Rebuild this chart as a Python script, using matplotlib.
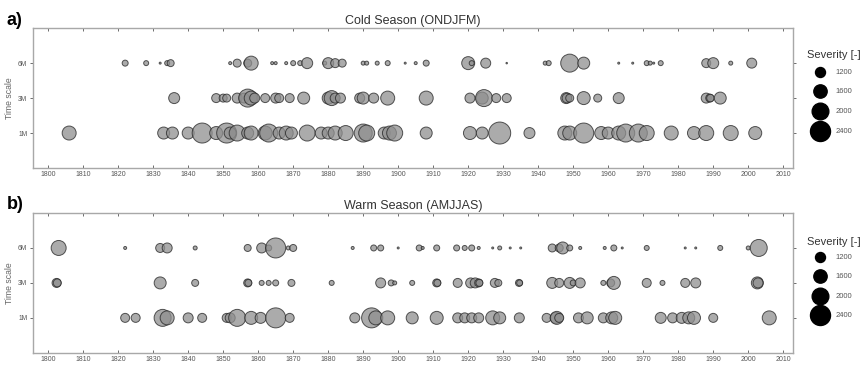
import matplotlib
matplotlib.use("Agg")
import matplotlib.pyplot as plt
import numpy as np

plt.rcParams['font.family'] = ['Liberation Sans', 'DejaVu Sans']

# ---- data (year, severity) ----
cold_6m_years = [1822, 1828, 1832, 1834, 1835, 1852, 1854, 1857, 1858, 1864, 1865, 1868,
                 1870, 1872, 1874, 1879, 1880, 1882, 1884, 1890, 1891, 1894, 1897, 1902,
                 1905, 1908, 1920, 1921, 1925, 1931, 1942, 1943, 1949, 1953, 1963, 1967,
                 1971, 1972, 1973, 1975, 1988, 1990, 1995, 2001]
cold_6m_sev = [720, 600, 240, 600, 840, 360, 960, 960, 1680, 360, 360, 360,
               600, 600, 1320, 480, 1320, 1080, 960, 480, 480, 480, 600, 240,
               360, 720, 1560, 600, 1200, 180, 480, 600, 2160, 1440, 240, 240,
               600, 480, 240, 600, 1080, 1320, 480, 1200]

cold_3m_years = [1836, 1848, 1850, 1851, 1854, 1856, 1857, 1858, 1859, 1862, 1865, 1866,
                 1869, 1873, 1880, 1881, 1882, 1883.5, 1889, 1890, 1893, 1897, 1908,
                 1920.5, 1924, 1924.5, 1928, 1931, 1948, 1948.2, 1949, 1953, 1957, 1963,
                 1988, 1989, 1989.2, 1992]
cold_3m_sev = [1320, 1080, 960, 960, 1200, 1200, 2160, 1680, 1200, 1080, 1200, 1080,
               1080, 1440, 1440, 1800, 1200, 1200, 1200, 1440, 1200, 1680, 1680,
               1200, 1440, 2040, 1080, 1080, 1320, 1150, 960, 1560, 960, 1320,
               1200, 960, 900, 1440]

cold_1m_years = [1806, 1833, 1835.5, 1840, 1844, 1848, 1851, 1852, 1854, 1857, 1858, 1862,
                 1863, 1866, 1868, 1869.5, 1874, 1878, 1880, 1882, 1885, 1890, 1891,
                 1896, 1897.5, 1899, 1908, 1920.5, 1924, 1929, 1937.5, 1947.6, 1949,
                 1953, 1958, 1960, 1963, 1965, 1968.6, 1971, 1978, 1984.5, 1988, 1995, 2002]
cold_1m_sev = [1680, 1440, 1440, 1440, 2400, 1560, 2400, 1440, 1920, 1440, 1680, 1680,
               2160, 1440, 1680, 1440, 1920, 1440, 1440, 1680, 1800, 2160, 1920,
               1440, 1680, 1920, 1440, 1560, 1440, 2640, 1320, 1680, 1680,
               2400, 1560, 1440, 1680, 2160, 2160, 1800, 1680, 1560, 1800, 1800, 1560]

warm_6m_years = [1803, 1822, 1832, 1834, 1842, 1857, 1861, 1863, 1865, 1868.6, 1870, 1887,
                 1893, 1895, 1900, 1906, 1907, 1911, 1916.7, 1919, 1921, 1923, 1927,
                 1929, 1932, 1935, 1944, 1946, 1947, 1949, 1952, 1959, 1961.6, 1964,
                 1971, 1982, 1985, 1992, 2000, 2003]
warm_6m_sev = [1800, 360, 1080, 1200, 480, 840, 1200, 720, 2400, 480, 840, 360,
               720, 720, 240, 720, 360, 720, 720, 600, 720, 360, 240,
               480, 240, 240, 960, 960, 1440, 720, 360, 360, 720, 240,
               600, 240, 240, 600, 480, 2040]

warm_3m_years = [1802.4, 1802.6, 1832, 1842, 1857, 1857.2, 1861, 1863, 1865, 1869.5, 1881,
                 1895, 1898, 1899, 1904, 1911, 1911.2, 1917, 1920.7, 1922, 1923, 1923.2,
                 1927.6, 1928.6, 1934.5, 1934.7, 1944, 1946, 1949, 1950, 1952, 1958.6,
                 1960.7, 1961.6, 1971, 1975.5, 1982, 1985, 2002.6, 2002.8]
warm_3m_sev = [1080, 960, 1440, 840, 960, 840, 600, 600, 720, 840, 600,
               1200, 720, 480, 600, 960, 840, 1080, 1200, 1200, 960, 840,
               1080, 840, 840, 720, 1320, 1080, 1320, 720, 1200, 600,
               960, 1560, 1080, 600, 1080, 1200, 1440, 1200]

warm_1m_years = [1822, 1825, 1832.7, 1834, 1840, 1844, 1851, 1852, 1854, 1858, 1860.7, 1865,
                 1869, 1887.6, 1892.4, 1893.6, 1897, 1904, 1911, 1917, 1919, 1921, 1923,
                 1927, 1929, 1934.6, 1942.4, 1945, 1945.3, 1946, 1951.5, 1954, 1958.6,
                 1961, 1962, 1975, 1978.4, 1981, 1983, 1984.5, 1990, 2006]
warm_1m_sev = [1080, 1080, 2040, 1680, 1200, 1080, 1080, 1200, 2040, 1560, 1320, 2400,
               1080, 1200, 2400, 1680, 1680, 1440, 1560, 1200, 1200, 1200, 1200,
               1680, 1440, 1200, 1080, 1320, 1560, 1080, 1200, 1440, 1200,
               1440, 1560, 1320, 1200, 1320, 1440, 1560, 1080, 1680]

legend_sev = [1200, 1600, 2000, 2400]
row_labels = ['1M', '3M', '6M']


def bubble_area(sev):
    # marker diameter in px ~ severity / 120, converted to points^2
    d_pt = np.asarray(sev) / 120.0 * 0.72
    return d_pt ** 2


def draw_panel(ax, rows, title):
    for yv, (yrs, sev) in enumerate(rows, start=1):
        ax.scatter(yrs, [yv] * len(yrs), s=bubble_area(sev), c='#8f8f8f',
                   edgecolors='#222222', linewidths=0.7, alpha=0.75, zorder=3)
    ax.set_xlim(1795.6, 2012.8)
    ax.set_ylim(0, 4)
    ax.set_xticks(np.arange(1800, 2011, 10))
    ax.set_yticks([1, 2, 3])
    ax.set_yticklabels(row_labels)
    ax.tick_params(axis='x', direction='in', top=True, length=2.5, width=0.6,
                   labelsize=5, colors='#555555', pad=2)
    ax.tick_params(axis='y', direction='out', right=True, length=2.5, width=0.6,
                   labelsize=4.8, colors='#555555', pad=1.5)
    for sp in ax.spines.values():
        sp.set_color('#a8a8a8')
        sp.set_linewidth(1.0)
    ax.set_ylabel('Time scale', fontsize=6.2, color='#666666', labelpad=3)
    ax.set_title(title, fontsize=9, color='#333333', pad=3)


fig = plt.figure(figsize=(8.62, 3.66), dpi=100)
ax1 = fig.add_axes([0.038, 0.541, 0.882, 0.382])
ax2 = fig.add_axes([0.038, 0.036, 0.882, 0.382])

draw_panel(ax1, [(cold_1m_years, cold_1m_sev), (cold_3m_years, cold_3m_sev),
                 (cold_6m_years, cold_6m_sev)], 'Cold Season (ONDJFM)')
draw_panel(ax2, [(warm_1m_years, warm_1m_sev), (warm_3m_years, warm_3m_sev),
                 (warm_6m_years, warm_6m_sev)], 'Warm Season (AMJJAS)')

fig.text(0.008, 0.945, 'a)', fontsize=13, fontweight='bold', va='center')
fig.text(0.008, 0.44, 'b)', fontsize=13, fontweight='bold', va='center')

# size legend: title as separate text, entries via legend
for ax, ty in ((ax1, 0.850), (ax2, 0.339)):
    fig.text(0.936, ty, 'Severity [-]', fontsize=8, color='#333333', va='center')
    handles = [ax.scatter([], [], s=bubble_area(v), c='k') for v in legend_sev]
    leg = ax.legend(handles, [str(v) for v in legend_sev],
                    loc='upper left', bbox_to_anchor=(1.019, 0.75), frameon=False,
                    fontsize=5.5, labelspacing=1.6,
                    handletextpad=1.0, borderpad=0.2)
    for t in leg.get_texts():
        t.set_color('#555555')

fig.savefig('out.png', dpi=100)
